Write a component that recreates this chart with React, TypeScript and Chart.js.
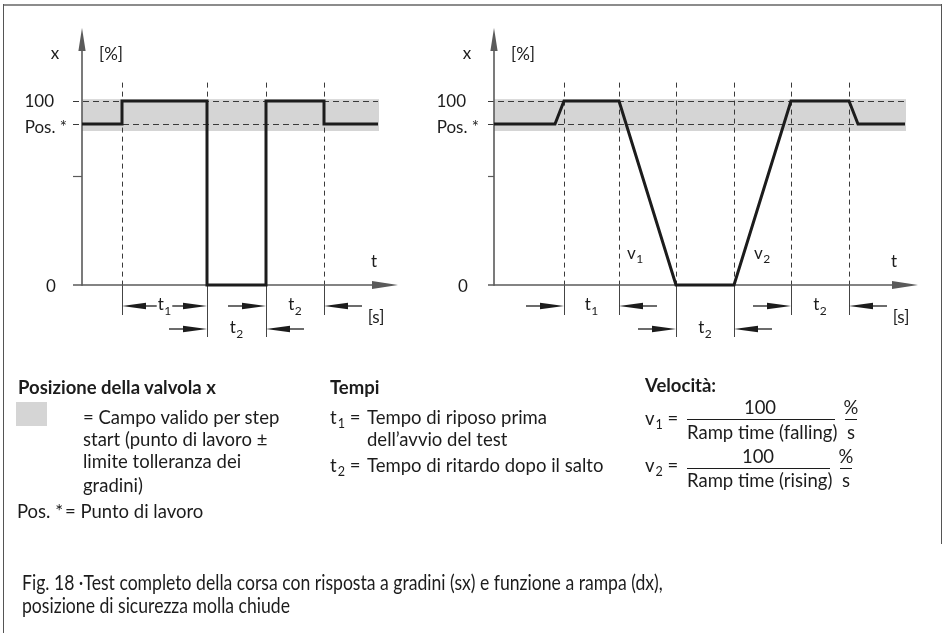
import React, { useEffect, useLayoutEffect, useRef } from "react";
import { Chart, registerables } from "chart.js";

Chart.register(...registerables);

const W = 944;
const H = 633;
const FONT = 'Lato, "Noto Sans", "DejaVu Sans", sans-serif';
const INK = "#1c1c1c";
const BAND = "#d5d5d5";
const AXIS = "#5a5a5a";
const DASH = "#3a3a3a";

// ---------- data (valve position x in %, time t in arbitrary units) ----------
const workPoint = 87.5; // "Pos. *"
const bandLow = 83.7; // tolerance band lower bound
const bandHigh = 101; // tolerance band upper bound
const midTick = 59;
const dashTop = 110;

// Left: step response
const stepTimes = [0, 4.0, 4.0, 12.5, 12.5, 18.4, 18.4, 24.2, 24.2, 29.6];
const stepValues = [87.5, 87.5, 100, 100, 0, 0, 100, 100, 87.5, 87.5];
const stepEvents = [4.0, 12.5, 18.4, 24.2];
const stepAxisEnd = 31.6;

// Right: ramp function
const rampTimes = [0, 6.1, 7.0, 12.5, 18.2, 24.0, 29.7, 35.5, 36.4, 41.1];
const rampValues = [87.5, 87.5, 100, 100, 0, 0, 100, 100, 87.5, 87.5];
const rampEvents = [7.0, 12.5, 18.2, 24.0, 29.7, 35.5];
const rampAxisEnd = 42.4;

type Dim = { from: number; to: number; sub: string; row: number; style: "in" | "out"; unit?: boolean };

const stepDims: Dim[] = [
  { from: 4.0, to: 12.5, sub: "1", row: 1, style: "in" },
  { from: 12.5, to: 18.4, sub: "2", row: 2, style: "out" },
  { from: 18.4, to: 24.2, sub: "2", row: 1, style: "out", unit: true },
];
const rampDims: Dim[] = [
  { from: 7.0, to: 12.5, sub: "1", row: 1, style: "out" },
  { from: 18.2, to: 24.0, sub: "2", row: 2, style: "out" },
  { from: 29.7, to: 35.5, sub: "2", row: 1, style: "out", unit: true },
];
const rampSlopes = [
  { x: 14.1, y: 17, sub: "1" },
  { x: 26.8, y: 17, sub: "2" },
];

// ---------- layout ----------
const TOP = 101; // pixel of 100 %
const BOTTOM = 285; // pixel of 0 %

type PanelCfg = {
  times: number[];
  values: number[];
  events: number[];
  axisEnd: number;
  dims: Dim[];
  slopes: { x: number; y: number; sub: string }[];
  left: number;
  right: number;
  tickLen: number;
};

const panels: PanelCfg[] = [
  { times: stepTimes, values: stepValues, events: stepEvents, axisEnd: stepAxisEnd, dims: stepDims, slopes: [], left: 82, right: 398, tickLen: 9 },
  { times: rampTimes, values: rampValues, events: rampEvents, axisEnd: rampAxisEnd, dims: rampDims, slopes: rampSlopes, left: 494, right: 918, tickLen: 6 },
];

const FS = 17;
const SFS = 12;

function seg(ctx: CanvasRenderingContext2D, x1: number, y1: number, x2: number, y2: number) {
  ctx.beginPath();
  ctx.moveTo(x1, y1);
  ctx.lineTo(x2, y2);
  ctx.stroke();
}

function text(ctx: CanvasRenderingContext2D, s: string, x: number, cy: number, align: CanvasTextAlign, k = 0.36, size = FS) {
  ctx.font = `${size}px ${FONT}`;
  ctx.textAlign = align;
  ctx.textBaseline = "alphabetic";
  ctx.fillText(s, x, cy + k * size);
}

function subText(ctx: CanvasRenderingContext2D, base: string, sub: string, x: number, cy: number, align: "left" | "center") {
  ctx.font = `${FS}px ${FONT}`;
  const wb = ctx.measureText(base).width;
  ctx.font = `${SFS}px ${FONT}`;
  const ws = ctx.measureText(sub).width;
  const total = wb + ws + 0.5;
  const left = align === "center" ? x - total / 2 : x;
  const base_y = cy + 0.3 * FS;
  ctx.textAlign = "left";
  ctx.textBaseline = "alphabetic";
  ctx.font = `${FS}px ${FONT}`;
  ctx.fillText(base, left, base_y);
  ctx.font = `${SFS}px ${FONT}`;
  ctx.fillText(sub, left + wb + 0.5, base_y + 4.5);
  return total;
}

function arrow(ctx: CanvasRenderingContext2D, tail: number, tip: number, y: number) {
  const dir = Math.sign(tip - tail);
  const head = Math.min(24, Math.abs(tip - tail));
  ctx.lineWidth = 1.3;
  seg(ctx, tail, y, tip - dir * head, y);
  ctx.beginPath();
  ctx.moveTo(tip, y);
  ctx.lineTo(tip - dir * head, y - 3.3);
  ctx.lineTo(tip - dir * head, y + 3.3);
  ctx.closePath();
  ctx.fill();
}

function makePlugin(p: PanelCfg) {
  return {
    id: "panelDecor",
    beforeDatasetsDraw(chart: any) {
      const ctx: CanvasRenderingContext2D = chart.ctx;
      const X = (v: number) => chart.scales.x.getPixelForValue(v);
      const Y = (v: number) => chart.scales.y.getPixelForValue(v);
      const x0 = X(0);
      const y0 = Y(0);
      const xEnd = X(p.times[p.times.length - 1]);
      const r = (v: number) => Math.round(v) + 0.5;
      ctx.save();
      // tolerance band
      ctx.fillStyle = BAND;
      ctx.fillRect(x0, Y(bandHigh), xEnd - x0 + 1, Y(bandLow) - Y(bandHigh));
      // dashed horizontals
      ctx.strokeStyle = DASH;
      ctx.lineWidth = 1;
      ctx.setLineDash([6, 4]);
      for (const v of [100, workPoint]) seg(ctx, x0 - p.tickLen, r(Y(v)), xEnd, r(Y(v)));
      // dashed verticals
      ctx.setLineDash([5, 4]);
      for (const e of p.events) seg(ctx, r(X(e)), Y(dashTop), r(X(e)), y0);
      ctx.setLineDash([]);
      // solid extension lines below axis
      ctx.strokeStyle = "#444";
      for (const e of p.events) {
        const long = p.dims.some((d) => d.row === 2 && (d.from === e || d.to === e));
        seg(ctx, r(X(e)), y0, r(X(e)), y0 + (long ? 52 : 30));
      }
      // axes
      ctx.strokeStyle = AXIS;
      ctx.fillStyle = AXIS;
      ctx.lineWidth = 1.6;
      const yTip = 28;
      seg(ctx, x0, y0 + 0.8, x0, yTip + 20);
      ctx.beginPath();
      ctx.moveTo(x0, yTip);
      ctx.lineTo(x0 - 3.6, yTip + 23);
      ctx.lineTo(x0 + 3.6, yTip + 23);
      ctx.closePath();
      ctx.fill();
      const xTip = X(p.axisEnd);
      seg(ctx, x0 - p.tickLen, y0, xTip - 20, y0);
      ctx.beginPath();
      ctx.moveTo(xTip, y0);
      ctx.lineTo(xTip - 26, y0 - 4);
      ctx.lineTo(xTip - 26, y0 + 4);
      ctx.closePath();
      ctx.fill();
      ctx.lineWidth = 1.2;
      seg(ctx, x0 - p.tickLen, r(Y(midTick)), x0, r(Y(midTick)));
      ctx.restore();
    },
    afterDatasetsDraw(chart: any) {
      const ctx: CanvasRenderingContext2D = chart.ctx;
      const X = (v: number) => chart.scales.x.getPixelForValue(v);
      const Y = (v: number) => chart.scales.y.getPixelForValue(v);
      const x0 = X(0);
      const y0 = Y(0);
      ctx.save();
      ctx.fillStyle = INK;
      ctx.strokeStyle = INK;
      // axis labels
      text(ctx, "x", x0 - 27, 55, "center", 0.25);
      text(ctx, "[%]", x0 + 17, 55, "left", 0.3);
      text(ctx, "100", x0 - 28, Y(100), "right");
      text(ctx, "Pos. *", x0 - 15, Y(workPoint) + 3, "right");
      text(ctx, "0", x0 - 31, y0 + 1, "center");
      text(ctx, "t", X(p.axisEnd) - 24, y0 - 23, "center", 0.3);
      // slopes
      for (const s of p.slopes) subText(ctx, "v", s.sub, X(s.x), Y(s.y), "center");
      // dimension arrows
      for (const d of p.dims) {
        const a = X(d.from);
        const b = X(d.to);
        const cx = (a + b) / 2;
        const y = y0 + (d.row === 1 ? 21 : 44);
        const w = subText(ctx, "t", d.sub, cx, y - 1, "center");
        if (d.style === "in") {
          arrow(ctx, cx - w / 2 - 1, a, y);
          arrow(ctx, cx + w / 2 + 1, b, y);
        } else {
          arrow(ctx, a - 38, a, y);
          arrow(ctx, b + 38, b, y);
        }
        if (d.unit) text(ctx, "[s]", b + 38 + 14, y + 12, "center", 0.3);
      }
      ctx.restore();
    },
  };
}

function PanelChart({ p }: { p: PanelCfg }) {
  const ref = useRef<HTMLCanvasElement>(null);
  useEffect(() => {
    const chart = new Chart(ref.current as HTMLCanvasElement, {
      type: "scatter",
      data: {
        datasets: [
          {
            data: p.times.map((t, i) => ({ x: t, y: p.values[i] })),
            showLine: true,
            borderColor: INK,
            borderWidth: 3,
            pointRadius: 0,
            borderJoinStyle: "miter",
            borderCapStyle: "butt",
            clip: false,
          } as any,
        ],
      },
      options: {
        animation: false,
        responsive: false,
        events: [],
        layout: { padding: { left: p.left, right: W - p.right, top: TOP, bottom: H - BOTTOM } },
        scales: {
          x: { type: "linear", display: false, min: 0, max: p.axisEnd },
          y: { type: "linear", display: false, min: 0, max: 100 },
        },
        plugins: { legend: { display: false }, tooltip: { enabled: false } },
      },
      plugins: [makePlugin(p)],
    });
    return () => chart.destroy();
  }, []);
  return <canvas ref={ref} width={W} height={H} style={{ position: "absolute", left: 0, top: 0, width: W, height: H }} />;
}

const LS = 18.5;

function Txt({ x, cy, size = LS, bold = false, align = "left", cap = false, children }: any) {
  return (
    <div
      style={{
        position: "absolute",
        left: x,
        top: cy - (cap ? 0.627 : 0.73) * size,
        fontSize: size,
        lineHeight: `${size * 1.2}px`,
        fontWeight: bold ? 700 : 400,
        whiteSpace: "nowrap",
        transform: align === "center" ? "translateX(-50%)" : undefined,
        color: INK,
        fontFamily: FONT,
      }}
    >
      {children}
    </div>
  );
}

const Sub = ({ children }: any) => (
  <span style={{ fontSize: "0.68em", position: "relative", top: "0.3em", marginLeft: 1 }}>{children}</span>
);

const HLine = ({ x, y, w }: any) => (
  <div style={{ position: "absolute", left: x, top: y, width: w, height: 1, background: INK }} />
);

export default function App() {
  const cap1 = useRef<HTMLDivElement>(null);
  const cap2 = useRef<HTMLDivElement>(null);
  useLayoutEffect(() => {
    const e1 = cap1.current;
    const e2 = cap2.current;
    if (!e1 || !e2) return;
    const s = 641 / e1.offsetWidth;
    for (const e of [e1, e2]) {
      e.style.transform = `scaleX(${s})`;
      e.style.transformOrigin = "left center";
    }
  }, []);

  const capStyle: React.CSSProperties = {
    position: "absolute",
    left: 22,
    fontSize: 21,
    lineHeight: "24px",
    whiteSpace: "nowrap",
    color: INK,
    fontFamily: FONT,
  };

  return (
    <div style={{ position: "absolute", left: 0, top: 0, width: W, height: H, background: "#fff", overflow: "hidden" }}>
      {/* frame */}
      <div style={{ position: "absolute", left: 3, top: 4, width: 939, height: 2, background: "#8c8c8c" }} />
      <div style={{ position: "absolute", left: 3, top: 4, width: 1, height: H - 4, background: "#555" }} />
      <div style={{ position: "absolute", left: 941, top: 4, width: 1, height: 540, background: "#555" }} />

      {panels.map((p, i) => (
        <PanelChart key={i} p={p} />
      ))}

      {/* legend: valve position */}
      <Txt x={18} cy={390} bold>Posizione della valvola x</Txt>
      <div style={{ position: "absolute", left: 16, top: 402, width: 31, height: 24, background: BAND }} />
      <Txt x={83} cy={420}>= Campo valido per step</Txt>
      <Txt x={83} cy={442}>start (punto di lavoro ±</Txt>
      <Txt x={83} cy={464}>limite tolleranza dei</Txt>
      <Txt x={83} cy={488}>gradini)</Txt>
      <Txt x={17} cy={514}>Pos. *</Txt>
      <Txt x={65} cy={514}>= Punto di lavoro</Txt>

      {/* legend: times */}
      <Txt x={330} cy={390} bold>Tempi</Txt>
      <Txt x={330} cy={420}>
        t<Sub>1</Sub> =
      </Txt>
      <Txt x={367} cy={420}>Tempo di riposo prima</Txt>
      <Txt x={367} cy={442}>dell’avvio del test</Txt>
      <Txt x={330} cy={468}>
        t<Sub>2</Sub> =
      </Txt>
      <Txt x={367} cy={468}>Tempo di ritardo dopo il salto</Txt>

      {/* legend: speeds */}
      <Txt x={645} cy={388} bold>Velocità:</Txt>
      <Txt x={645} cy={421}>
        v<Sub>1</Sub> =
      </Txt>
      <Txt x={760} cy={408} cap align="center">100</Txt>
      <HLine x={687} y={419} w={148} />
      <Txt x={687} cy={433} cap>Ramp time (falling)</Txt>
      <Txt x={851} cy={408} cap align="center">%</Txt>
      <HLine x={845} y={419} w={12} />
      <Txt x={851} cy={435} align="center">s</Txt>

      <Txt x={645} cy={468}>
        v<Sub>2</Sub> =
      </Txt>
      <Txt x={758} cy={457} cap align="center">100</Txt>
      <HLine x={687} y={468} w={143} />
      <Txt x={687} cy={481} cap>Ramp time (rising)</Txt>
      <Txt x={846} cy={457} cap align="center">%</Txt>
      <HLine x={840} y={468} w={12} />
      <Txt x={846} cy={483} align="center">s</Txt>

      {/* caption */}
      <div ref={cap1} style={{ ...capStyle, top: 570 }}>
        Fig. 18 ·Test completo della corsa con risposta a gradini (sx) e funzione a rampa (dx),
      </div>
      <div ref={cap2} style={{ ...capStyle, top: 593 }}>
        posizione di sicurezza molla chiude
      </div>
    </div>
  );
}
